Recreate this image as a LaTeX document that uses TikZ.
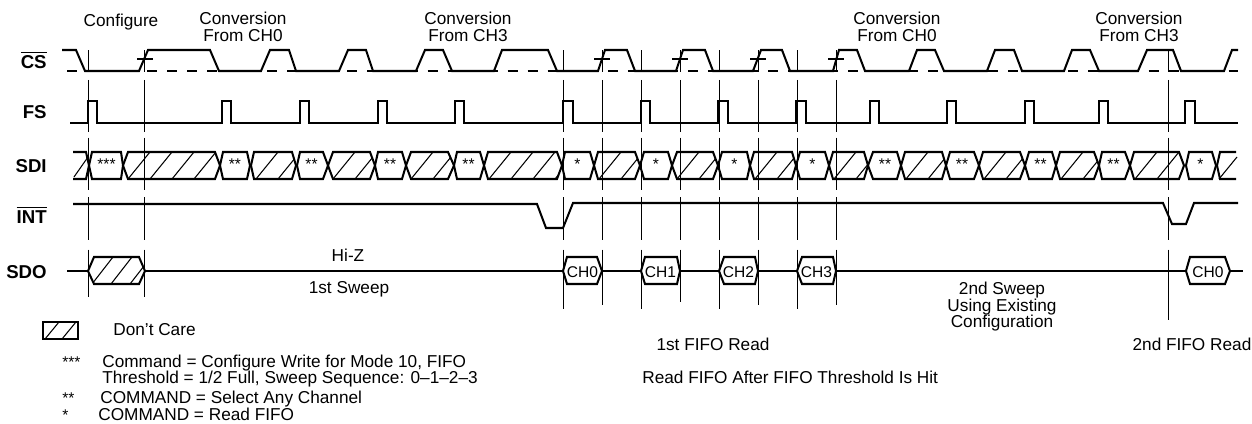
\documentclass[tikz,border=0pt]{standalone}
\usepackage{fontspec}
\setmainfont{Liberation Sans}
\tikzset{
 wave/.style={line width=1.15pt,line join=miter},
 thinhatch/.style={line width=.6pt},
 guide/.style={line width=.55pt,dash pattern=on 12.5pt off 4.5pt on 29.5pt off 3.4pt on 29.5pt off 4.5pt on 24pt off 5.7pt on 40pt off 5pt},
 txt/.style={inner sep=0pt,anchor=base,font=\fontsize{9.8}{11}\selectfont},
 lefttxt/.style={txt,anchor=base west},
 small/.style={inner sep=0pt,anchor=base,font=\fontsize{8.85}{10}\selectfont},
 sig/.style={inner sep=0pt,anchor=base east,font=\fontsize{10.6}{12}\selectfont\bfseries},
}
\begin{document}
\begin{tikzpicture}[x=0.02cm,y=-0.02cm]
 \useasboundingbox (0,0) rectangle (1252,423);
 % vertical guides
 \foreach \x/\e in {88/297,144.5/297,563/309,602/305,641/309,680/302,719/309,758/305,797/309,836/305,1168/326}
  \draw[guide] (\x,50) -- (\x,\e);
 % CS
 \draw[line width=1.1pt,dash pattern=on 5.7pt off 5.7pt] (67,71) -- (1238,71);
 \draw[wave] (62,50) -- (76,50) -- (85,71) -- (139,71) -- (148,50) -- (210,50) -- (219,71) -- (261,71)
  -- (270,50) -- (289,50) -- (296,71) -- (339,71) -- (348,50) -- (366,50) -- (373,71) -- (416,71)
  -- (425,50) -- (443,50) -- (452,71) -- (494,71) -- (502,50) -- (548,50) -- (557,71) -- (598,71)
  -- (605,50) -- (627,50) -- (635,71) -- (676,71) -- (683,50) -- (705,50) -- (713,71) -- (753,71)
  -- (761,50) -- (782,50) -- (790,71) -- (833,71) -- (839,50) -- (857,50) -- (865,71) -- (909,71)
  -- (917,50) -- (935,50) -- (944,71) -- (987,71) -- (995,50) -- (1014,50) -- (1022,71) -- (1064,71)
  -- (1072,50) -- (1090,50) -- (1099,71) -- (1138,71) -- (1147,50) -- (1173,50) -- (1181,71) -- (1224,71)
  -- (1232,50) -- (1238,50);
 \foreach \x in {137,594,672,750,828}
  \draw[line width=.6pt] (\x,59) -- ++(16,0);
 % FS
 \draw[wave] (70,123)
  \foreach \a/\b in {88/97,222/231,300/309,378/387,455/464,563/573,641/650,718/728,796/806,870/879,947/956,1025/1034,1099/1108,1185/1195}
   { -- (\a,123) -- (\a,101) -- (\b,101) -- (\b,123) } -- (1238,123);
 % SDI
 \draw[wave] (73,152) -- (86,152) -- (89,165.5) -- (86,179) -- (73,179);
 \draw[thinhatch] (74,177) -- (88,157);
 \foreach \a/\b/\c/\d in {123/128/215/220,251/254/292/296,328/333/370/375,406/411/448/454,484/488/557/562,
   594/598/635/640,672/677/713/718,750/754/792/796,829/833/864/868,901/905/942/946,979/983/1020/1025,
   1056/1060/1094/1099,1130/1134/1179/1184}
 {
  \begin{scope}
   \clip (\a,165.5) -- (\b,152) -- (\c,152) -- (\d,165.5) -- (\c,179) -- (\b,179) -- cycle;
   \foreach \s in {5,27,...,115}
    \draw[thinhatch] ({\a+\s},179) -- ({\a+\s+22},152);
  \end{scope}
  \draw[wave] (\a,165.5) -- (\b,152) -- (\c,152) -- (\d,165.5) -- (\c,179) -- (\b,179) -- cycle;
 }
 \foreach \a/\b/\c/\d/\t in {89/92/121/123/***,220/223/247/250/**,297/300/323/328/**,375/378/402/406/**,454/457/480/484/**,
   562/565/590/594/*,640/644/668/672/*,718/722/747/750/*,796/800/825/829/*,
   868/873/897/901/**,946/950/974/979/**,1025/1029/1052/1056/**,1099/1102/1125/1130/**,1186/1189/1212/1216/*}
 {
  \draw[wave] (\a,165.5) -- (\b,152) -- (\c,152) -- (\d,165.5) -- (\c,179) -- (\b,179) -- cycle;
  \node[small] (cmd\a) at ({(\b+\c)/2},169.5) {\t};
 }
 \draw[wave] (1236,152) -- (1220,152) -- (1217,165.5) -- (1220,179) -- (1236,179);
 \draw[thinhatch] (1219,179) -- (1237,157);
 % INT
 \draw[wave] (73,204) -- (537,204) -- (546,228) -- (563,228) -- (573,203) -- (1163,203) -- (1172,224)
  -- (1186,224) -- (1194,203) -- (1238,203);
 % SDO
 \draw[wave] (67,271) -- (1243,271);
 \begin{scope}
  \clip (88,271) -- (94,257) -- (139,257) -- (145,271) -- (139,284) -- (94,284) -- cycle;
  \fill[white] (88,257) rectangle (145,284);
  \foreach \s in {0,19,38}
   \draw[thinhatch] ({92+\s},284) -- ({113+\s},257);
 \end{scope}
 \draw[wave] (88,271) -- (94,257) -- (139,257) -- (145,271) -- (139,284) -- (94,284) -- cycle;
 \foreach \n/\a/\b/\c/\d/\t in {a/563/567/597/602/CH0,b/641/645/677/680/CH1,c/719/724/755/758/CH2,d/797/802/833/836/CH3,e/1186/1190/1225/1230/CH0}
 {
  \filldraw[wave,fill=white] (\a,271) -- (\b,257) -- (\c,257) -- (\d,271) -- (\c,284) -- (\b,284) -- cycle;
  \node[small] (data\n) at ({(\a+\d)/2},277) {\t};
 }
 % signal names
 \node[sig] (nameCS) at (47,68) {$\overline{\mbox{CS}}$};
 \node[sig] (nameFS) at (47,118) {FS};
 \node[sig] (nameSDI) at (47,172) {SDI};
 \node[sig] (nameINT) at (47,223) {$\overline{\mbox{INT}}$};
 \node[sig] (nameSDO) at (47,278) {SDO};
 % headings
 \node[txt] (config) at (121,26) {Configure};
 \node[txt] (convA) at (243,24) {Conversion};
 \node[txt] (fromA) at (243,41) {From CH0};
 \node[txt] (convB) at (468,24) {Conversion};
 \node[txt] (fromB) at (468,41) {From CH3};
 \node[txt] (convC) at (897,24) {Conversion};
 \node[txt] (fromC) at (897,41) {From CH0};
 \node[txt] (convD) at (1139,24) {Conversion};
 \node[txt] (fromD) at (1139,41) {From CH3};
 % texts under SDO
 \node[txt] (hiz) at (348,261) {Hi-Z};
 \node[txt] (sweepA) at (349,293) {1st Sweep};
 \node[txt] (readA) at (713,350) {1st FIFO Read};
 \node[lefttxt] (after) at (642,383) {Read FIFO After FIFO Threshold Is Hit};
 \node[txt] (sweepB) at (1002,294) {2nd Sweep};
 \node[txt] (using) at (1002,311) {Using Existing};
 \node[txt] (exist) at (1002,327) {Configuration};
 \node[txt] (readB) at (1192,350) {2nd FIFO Read};
 % legend
 \begin{scope}
  \clip (43,322) rectangle (78,339);
  \foreach \s in {45,62}
   \draw[thinhatch] (\s,339) -- ++(14,-17);
 \end{scope}
 \draw[line width=.7pt] (43,322) rectangle (78,339);
 \node[lefttxt] (dontcare) at (113,335) {Don’t Care};
 \node[small,anchor=base west] (starC) at (62,367) {***};
 \node[lefttxt] (noteA) at (102,367) {Command = Configure Write for Mode 10, FIFO};
 \node[lefttxt] (noteB) at (102,383) {Threshold = 1/2 Full, Sweep Sequence: 0–1–2–3};
 \node[small,anchor=base west] (starB) at (62,403) {**};
 \node[lefttxt] (noteC) at (100,403) {COMMAND = Select Any Channel};
 \node[small,anchor=base west] (starA) at (62,420) {*};
 \node[lefttxt] (noteD) at (98,420) {COMMAND = Read FIFO};
\end{tikzpicture}
\end{document}
